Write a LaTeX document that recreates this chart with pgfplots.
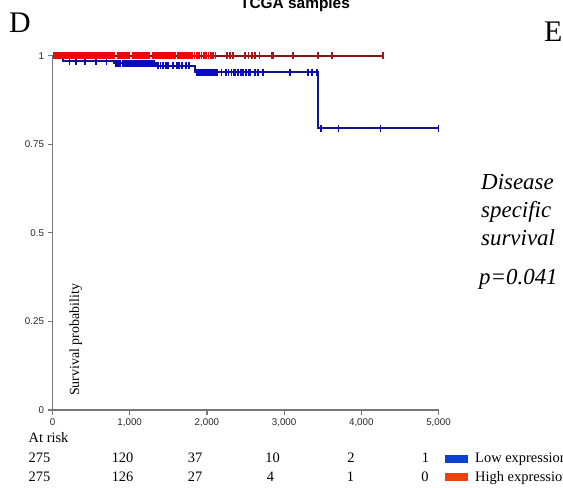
\documentclass[border=0pt]{standalone}
\usepackage{fontspec}
\setmainfont{Liberation Serif}
\newfontfamily\sansf{Liberation Sans}
\usepackage{pgfplots}
\pgfplotsset{compat=1.18}
\definecolor{bline}{RGB}{20,20,140}
\definecolor{bmark}{RGB}{10,10,190}
\definecolor{rline}{RGB}{140,20,20}
\definecolor{rmark}{RGB}{232,10,10}
\definecolor{rmarkdark}{RGB}{175,20,20}
\definecolor{legblue}{RGB}{10,64,208}
\definecolor{legred}{RGB}{240,64,16}
\definecolor{axgray}{RGB}{120,120,120}
\begin{document}
\begin{tikzpicture}[x=1bp,y=1bp]
\path[use as bounding box] (0,0) rectangle (563,488);
\clip (0,0) rectangle (563,488);
\node[font=\sansf\bfseries\fontsize{15.5}{17}\selectfont, anchor=base, inner sep=0] at (295,{488-9}) {TCGA samples};
\node[font=\fontsize{30}{32}\selectfont, anchor=base west, inner sep=0] at (9,{488-33}) {D};
\node[font=\fontsize{30}{32}\selectfont, anchor=base west, inner sep=0] at (544,{488-42}) {E};
\begin{axis}[
  at={(52.5bp,78bp)}, anchor=south west,
  scale only axis, width=386bp, height=354.3bp,
  xmin=0, xmax=5000, ymin=0, ymax=1,
  axis x line=bottom, axis y line=left,
  axis line style={-, draw=axgray, line width=1.5bp},
  xtick={0,1000,2000,3000,4000,5000},
  ytick={0,0.25,0.5,0.75,1},
  yticklabels={0,0.25,0.5,0.75,1},
  xticklabels={0,{1,000},{2,000},{3,000},{4,000},{5,000}},
  scaled x ticks=false,
  tick align=outside, major tick length=5bp,
  tick style={draw=axgray, line width=1.2bp},
  tick label style={font=\sansf\fontsize{9.8}{11}\selectfont, text=black!85},
  clip=false,
]
\addplot[const plot, draw=bline, line width=2bp, no markers] coordinates {
 (0,1) (140,0.985) (795,0.978) (1340,0.972) (1840,0.953) (3443,0.795) (5000,0.795)};
\addplot[only marks, mark=|, mark size=3.8bp, mark options={draw=bmark, line width=1.7bp}] coordinates {
 (222,0.985) (300,0.985) (420,0.985) (560,0.985) (700,0.985)
 (820,0.978) (840,0.978) (860,0.978) (880,0.978) (905,0.978) (930,0.978) (950,0.978) (970,0.978) (990,0.978) (1010,0.978) (1030,0.978) (1055,0.978) (1080,0.978) (1100,0.978) (1120,0.978) (1140,0.978) (1160,0.978) (1180,0.978) (1200,0.978) (1225,0.978) (1250,0.978) (1270,0.978) (1290,0.978) (1315,0.978)
 (1370,0.972) (1400,0.972) (1435,0.972) (1470,0.972) (1500,0.972) (1557,0.972) (1609,0.972) (1640,0.972) (1673,0.972) (1730,0.972) (1772,0.972)
 (1870,0.953) (1890,0.953) (1910,0.953) (1930,0.953) (1950,0.953) (1970,0.953) (1990,0.953) (2010,0.953) (2030,0.953) (2050,0.953) (2070,0.953) (2090,0.953) (2110,0.953) (2130,0.953)
 (2190,0.953) (2250,0.953) (2280,0.953) (2320,0.953) (2345,0.953) (2365,0.953) (2395,0.953) (2410,0.953) (2440,0.953) (2472,0.953)
 (2506,0.953) (2540,0.953) (2560,0.953) (2623,0.953) (2666,0.953) (2731,0.953) (3077,0.953) (3313,0.953) (3360,0.953) (3423,0.953)
 (3476,0.795) (3706,0.795) (4247,0.795) (5000,0.795)};
\addplot[draw=rline, line width=2bp, no markers] coordinates {(0,1) (4283,1)};
\addplot[only marks, mark=|, mark size=3.8bp, mark options={draw=rmark, line width=1.7bp}] coordinates {
 (15,1) (30,1) (45,1) (60,1) (75,1) (90,1) (105,1) (120,1) (135,1) (150,1) (165,1) (180,1) (195,1) (210,1) (225,1) (240,1) (255,1) (270,1) (285,1) (300,1)
 (315,1) (330,1) (345,1) (360,1) (375,1) (390,1) (405,1) (420,1) (435,1) (450,1) (465,1) (480,1) (495,1) (510,1) (525,1) (540,1) (555,1) (570,1) (585,1) (600,1)
 (615,1) (630,1) (645,1) (660,1) (675,1) (690,1) (705,1) (720,1) (735,1) (750,1) (765,1) (780,1) (795,1)
 (840,1) (855,1) (870,1) (885,1) (900,1) (915,1) (930,1) (945,1) (960,1) (975,1) (990,1)
 (1040,1) (1055,1) (1070,1) (1085,1) (1100,1) (1115,1) (1130,1) (1145,1) (1160,1) (1175,1) (1190,1) (1205,1) (1220,1) (1235,1) (1250,1)
 (1295,1) (1310,1) (1325,1) (1340,1) (1355,1) (1370,1) (1385,1) (1400,1) (1415,1) (1430,1) (1445,1) (1460,1) (1475,1) (1490,1) (1505,1) (1520,1) (1535,1) (1550,1) (1565,1) (1580,1) (1595,1)
 (1620,1) (1635,1) (1650,1) (1665,1) (1680,1) (1695,1) (1710,1) (1725,1) (1740,1) (1760,1) (1780,1)
 (1810,1) (1840,1) (1870,1) (1900,1) (1930,1) (1960,1) (1990,1) (2020,1) (2050,1) (2075,1) (2110,1)};
\addplot[only marks, mark=|, mark size=3.8bp, mark options={draw=rmarkdark, line width=1.7bp}] coordinates {
 (2256,1) (2299,1) (2342,1) (2494,1) (2537,1) (2580,1) (2623,1) (2680,1) (2845,1) (2860,1) (3117,1) (3435,1) (3621,1) (4283,1)};
\end{axis}
\node[rotate=90, anchor=base west, inner sep=0, font=\fontsize{14}{16}\selectfont] at (79,{488-396}) {Survival probability};
\begin{scope}[every node/.style={inner sep=0, font=\fontsize{14.5}{16}\selectfont}]
\node[anchor=base west] at (28.5,{488-443}) {At risk};
\node[anchor=base] at (39.4,{488-463}) {275};
\node[anchor=base] at (122.6,{488-463}) {120};
\node[anchor=base] at (195,{488-463}) {37};
\node[anchor=base] at (272.5,{488-463}) {10};
\node[anchor=base] at (351,{488-463}) {2};
\node[anchor=base] at (425.5,{488-463}) {1};
\node[anchor=base] at (39.4,{488-482}) {275};
\node[anchor=base] at (122.6,{488-482}) {126};
\node[anchor=base] at (195,{488-482}) {27};
\node[anchor=base] at (270.6,{488-482}) {4};
\node[anchor=base] at (350.5,{488-482}) {1};
\node[anchor=base] at (425,{488-482}) {0};
\node[anchor=base west] at (475,{488-463}) {Low expression};
\node[anchor=base west] at (475,{488-482}) {High expression};
\end{scope}
\fill[legblue] (444.5,{488-463}) rectangle (467.5,{488-455});
\fill[legred] (444.5,{488-481}) rectangle (467.5,{488-473});
\begin{scope}[every node/.style={inner sep=0, anchor=base west, font=\itshape\fontsize{23}{25}\selectfont}]
\node at (481,{488-190}) {Disease};
\node at (481,{488-218}) {specific};
\node at (481,{488-246}) {survival};
\node at (479,{488-285}) {p=0.041};
\end{scope}
\end{tikzpicture}
\end{document}
